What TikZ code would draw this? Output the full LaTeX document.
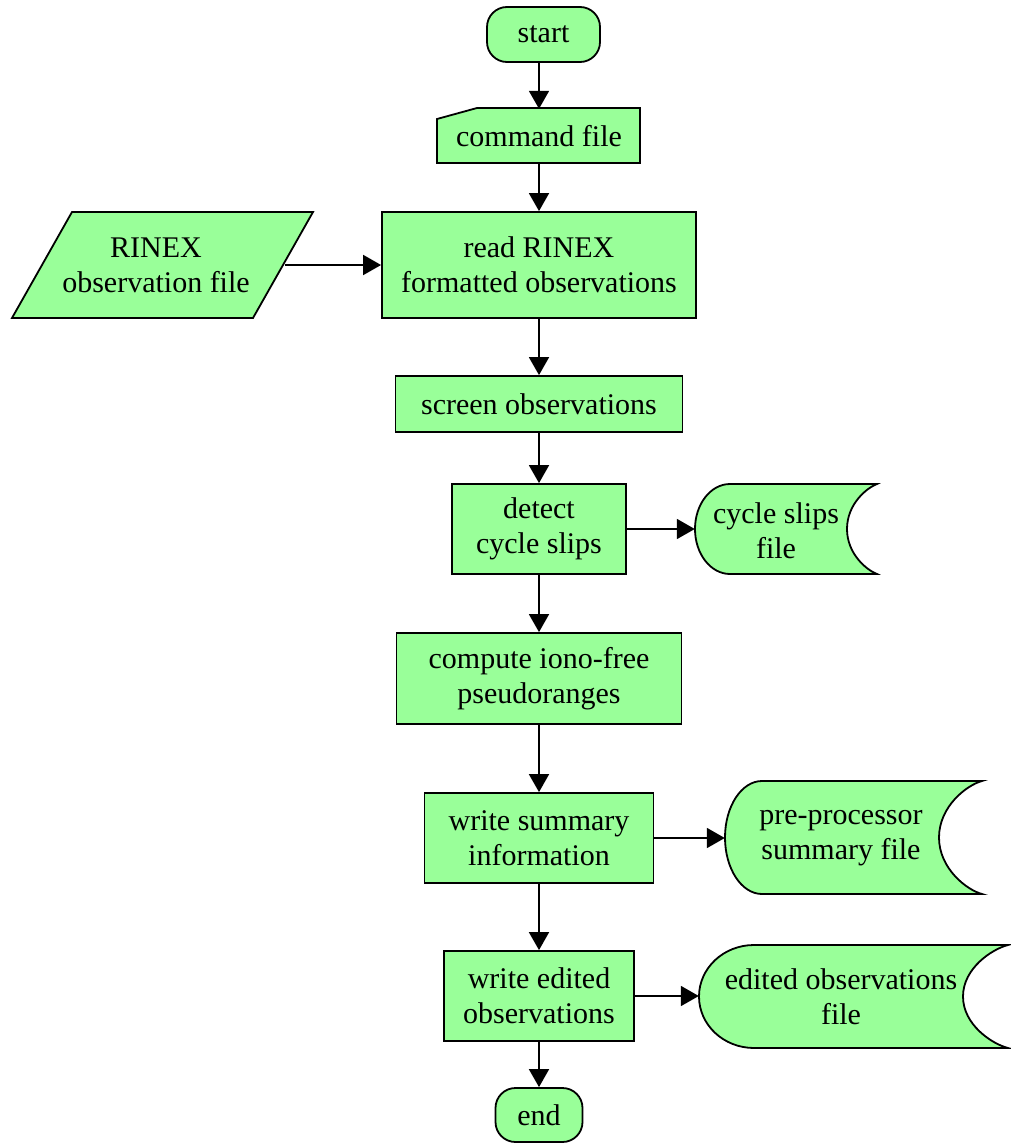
\documentclass[tikz,border=0pt]{standalone}
\usepackage{fontspec}
\setmainfont{Liberation Serif}
\usetikzlibrary{arrows.meta,backgrounds}
\definecolor{boxgreen}{RGB}{153,255,153}

% storage (stored data) outline: left x, left bulge, right x, right notch, top y, bottom y
\newcommand{\storagepath}[6]{%
  \pgfmathsetmacro\sM{(#5+#6)/2}%
  \pgfmathsetmacro\sH{(#6-#5)/2*0.5523}%
  \pgfmathsetmacro\sKa{#2*0.5523}%
  \pgfmathsetmacro\sKb{#4*0.35}%
  \path[outline] (#1+#2,#5) -- (#3,#5)
    .. controls (#3-\sKb,#5+4) and (#3-#4,\sM-\sH) .. (#3-#4,\sM)
    .. controls (#3-#4,\sM+\sH) and (#3-\sKb,#6-4) .. (#3,#6)
    -- (#1+#2,#6)
    .. controls (#1+#2-\sKa,#6) and (#1,\sM+\sH) .. (#1,\sM)
    .. controls (#1,\sM-\sH) and (#1+#2-\sKa,#5) .. cycle;%
}

\begin{document}
\begin{tikzpicture}[x=1pt,y=-1pt,
  font=\fontsize{30}{35}\selectfont,
  every node/.style={align=center, inner sep=0pt},
  outline/.style={draw=black, fill=boxgreen, line width=1.8pt, line join=miter},
  procbox/.style={outline},
  termbox/.style={outline, rounded corners=20pt},
  arr/.style={line width=1.8pt, -{Triangle[length=18pt,width=20pt]}}
]
\useasboundingbox (0,0) rectangle (1010,1143);

% main column
\node[termbox, minimum width=113pt, minimum height=55pt] (start) at (543.5,34.5) {start};
\node[minimum width=203pt, minimum height=55pt] (cmd) at (539,136.5) {command file};
\node[procbox, minimum width=314pt, minimum height=106pt] (read) at (539,265) {read RINEX\\formatted observations};
\node[procbox, minimum width=287pt, minimum height=56pt] (screen) at (539,404) {screen observations};
\node[procbox, minimum width=174pt, minimum height=90pt] (detect) at (539,529) {detect\\cycle slips};
\node[procbox, minimum width=285pt, minimum height=91pt] (compute) at (539,678.5) {compute iono-free\\pseudoranges};
\node[procbox, minimum width=229pt, minimum height=90pt] (summ) at (539,838) {write summary\\information};
\node[procbox, minimum width=190pt, minimum height=90pt] (edit) at (539,996) {write edited\\observations};
\node[termbox, minimum width=87pt, minimum height=54pt] (end) at (539,1115) {end};

% inputs and outputs
\node[minimum width=258pt, minimum height=106pt] (rinexf) at (156,265) {RINEX\\observation file};
\node[minimum width=162pt, minimum height=90pt] (csf) at (776,531) {cycle slips\\file};
\node[minimum width=232pt, minimum height=112pt] (ppf) at (841,838) {pre-processor\\summary file};
\node[minimum width=284pt, minimum height=102pt] (eof) at (841,997) {edited observations\\file};

% outlines drawn behind the texts
\begin{scope}[on background layer]
  \path[outline] (437,119) -- (477,108) -- (640,108) -- (640,163) -- (437,163) -- cycle;
  \path[outline] (72,212) -- (313,212) -- (253,318) -- (12,318) -- cycle;
  \storagepath{695}{35}{877}{30}{484}{574}
  \storagepath{725}{37}{982}{43}{781}{894}
  \storagepath{699}{55}{1008}{45}{945}{1048}
\end{scope}

% flow
\draw[arr] (cmd.north |- start.south) -- (cmd.north);
\draw[arr] (cmd.south) -- (read.north);
\draw[arr] (rinexf.east) -- (read.west);
\draw[arr] (read.south) -- (screen.north);
\draw[arr] (screen.south) -- (detect.north);
\draw[arr] (detect.east) -- (detect.east -| csf.west);
\draw[arr] (detect.south) -- (compute.north);
\draw[arr] (compute.south) -- (summ.north);
\draw[arr] (summ.east) -- (ppf.west);
\draw[arr] (summ.south) -- (edit.north);
\draw[arr] (edit.east) -- (edit.east -| eof.west);
\draw[arr] (edit.south) -- (end.north);
\end{tikzpicture}
\end{document}
